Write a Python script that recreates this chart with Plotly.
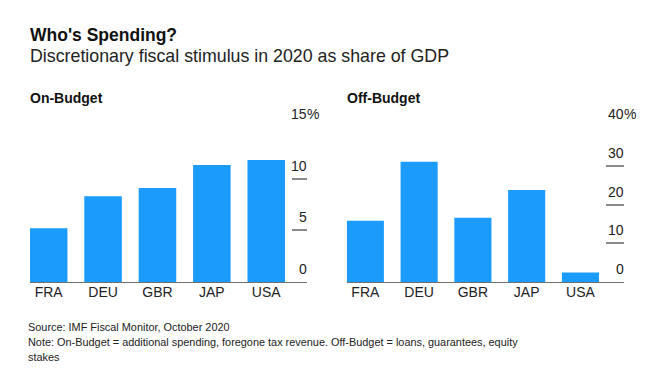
import plotly.graph_objects as go

countries = ["FRA", "DEU", "GBR", "JAP", "USA"]
on_budget = [5.2, 8.3, 9.1, 11.3, 11.8]
off_budget = [15.8, 31.0, 16.6, 23.7, 2.5]
on_ticks = [0, 5, 10, 15]
off_ticks = [0, 10, 20, 30, 40]

BLUE = "#1b9cfc"
W, H = 672, 392
FONT = "Liberation Sans, Arial, sans-serif"

def px(x):
    return x / W

def py(y):
    return 1 - y / H

fig = go.Figure()
fig.add_trace(go.Bar(x=countries, y=on_budget, marker_color=BLUE, marker_line_width=0,
                     xaxis="x", yaxis="y", showlegend=False, hoverinfo="skip"))
fig.add_trace(go.Bar(x=countries, y=off_budget, marker_color=BLUE, marker_line_width=0,
                     xaxis="x2", yaxis="y2", showlegend=False, hoverinfo="skip"))

ydom = [py(282.3), py(126.7)]
common_x = dict(type="category", showline=True, linecolor="#6f6f6f", linewidth=1.3,
                ticks="", showgrid=False, zeroline=False,
                tickfont=dict(family=FONT, size=14, color="#222"), ticklabelstandoff=-3)
common_y = dict(side="right", ticks="inside", tickcolor="#8a8a8a", tickwidth=1.5,
                showticklabels=False, showgrid=False, zeroline=False, showline=False,
                domain=ydom)

fig.update_layout(
    width=W, height=H, margin=dict(l=0, r=0, t=0, b=0),
    paper_bgcolor="white", plot_bgcolor="white",
    bargap=0.31,
    xaxis=dict(domain=[px(30), px(307)], range=[-0.343, 4.749], anchor="y", **common_x),
    yaxis=dict(range=[0, 15], tickvals=on_ticks, ticklen=15, anchor="x", **common_y),
    xaxis2=dict(domain=[px(346.7), px(624)], range=[-0.347, 4.81], anchor="y2", **common_x),
    yaxis2=dict(range=[0, 40], tickvals=off_ticks, ticklen=18, anchor="x2", **common_y),
)

ann = []
# y tick labels
for axs, ticks in (("", on_ticks), ("2", off_ticks)):
    for i, t in enumerate(ticks):
        ann.append(dict(xref=f"x{axs} domain", yref=f"y{axs}", x=1, y=t, xanchor="right",
                        yanchor="middle", yshift=13, xshift=2, showarrow=False, text=str(t),
                        font=dict(family=FONT, size=14, color="#222")))
        if i == len(ticks) - 1:
            ann.append(dict(xref=f"x{axs} domain", yref=f"y{axs}", x=1, y=t, xanchor="left",
                            yanchor="middle", yshift=13, xshift=-2, showarrow=False, text="%",
                            font=dict(family=FONT, size=14, color="#222")))

# titles
ann.append(dict(xref="paper", yref="paper", x=px(28), y=py(35), xanchor="left", yanchor="middle",
                showarrow=False, text="<b>Who's Spending?</b>",
                font=dict(family=FONT, size=17.5, color="#111")))
ann.append(dict(xref="paper", yref="paper", x=px(28), y=py(56), xanchor="left", yanchor="middle",
                showarrow=False, text="Discretionary fiscal stimulus in 2020 as share of GDP",
                font=dict(family=FONT, size=17.8, color="#222")))
ann.append(dict(xref="paper", yref="paper", x=px(28), y=py(98), xanchor="left", yanchor="middle",
                showarrow=False, text="<b>On-Budget</b>",
                font=dict(family=FONT, size=14, color="#111")))
ann.append(dict(xref="paper", yref="paper", x=px(344.7), y=py(98), xanchor="left", yanchor="middle",
                showarrow=False, text="<b>Off-Budget</b>",
                font=dict(family=FONT, size=14, color="#111")))

footer = ["Source: IMF Fiscal Monitor, October 2020",
          "Note: On-Budget = additional spending, foregone tax revenue. Off-Budget = loans, guarantees, equity",
          "stakes"]
for i, line in enumerate(footer):
    ann.append(dict(xref="paper", yref="paper", x=px(25.5), y=py(327 + 14.8 * i), xanchor="left",
                    yanchor="middle", showarrow=False, text=line,
                    font=dict(family=FONT, size=10.9, color="#222")))

fig.update_layout(annotations=ann)
fig.write_html("out.html", config={"displayModeBar": False},
               post_script="document.body.style.margin='0';document.body.style.padding='0';")
